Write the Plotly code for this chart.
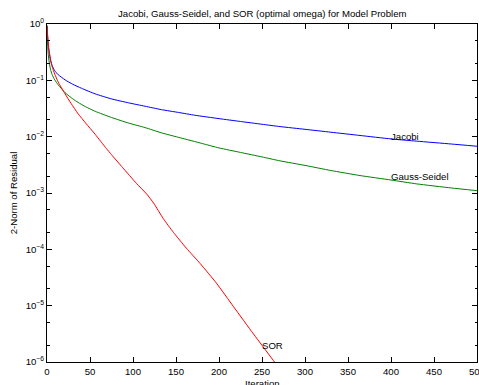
import plotly.graph_objects as go
import numpy as np

# Residual histories (2-norm) for the model problem
jacobi_iter = [0, 1, 2, 4, 6, 9, 13, 21, 30, 40, 56, 75, 95, 114, 133, 153, 172, 200, 225, 250,
               271, 300, 330, 364, 400, 430, 470, 500]
jacobi_res = [0.933, 0.501, 0.355, 0.229, 0.182, 0.148, 0.126, 0.102, 0.0851, 0.0724, 0.0575,
              0.0468, 0.0398, 0.0347, 0.0302, 0.0269, 0.0240, 0.0209, 0.0186, 0.0166, 0.0151,
              0.0135, 0.0120, 0.0105, 0.00912, 0.00832, 0.00741, 0.00676]

gs_iter = [0, 1, 2, 4, 6, 9, 13, 21, 30, 36, 45, 56, 75, 95, 114, 133, 155, 180, 200, 225, 250,
           271, 300, 330, 364, 400, 430, 470, 500]
gs_res = [0.933, 0.355, 0.240, 0.158, 0.126, 0.102, 0.0832, 0.0603, 0.0468, 0.0407, 0.0339,
          0.0282, 0.0219, 0.0174, 0.0145, 0.0117, 0.00955, 0.00759, 0.00631, 0.00525, 0.00437,
          0.00372, 0.00309, 0.00251, 0.00204, 0.00170, 0.00145, 0.00123, 0.00110]

sor_iter = [0, 1, 2, 4, 6, 9, 13, 21, 28, 36, 45, 56, 69, 75, 88, 104, 116, 124, 135, 147, 162,
            178, 197, 217, 240, 265, 275]
sor_res = [0.933, 0.562, 0.380, 0.240, 0.174, 0.129, 0.0933, 0.0575, 0.0389, 0.0257, 0.0174,
           0.0110, 0.00617, 0.00479, 0.00282, 0.00148, 0.000955, 0.000661, 0.000355, 0.000200,
           0.000105, 5.62e-5, 2.51e-5, 9.55e-6, 3.16e-6, 9.77e-7, 6.03e-7]

x_ticks = [0, 50, 100, 150, 200, 250, 300, 350, 400, 450, 500]
y_tickvals = [1, 1e-1, 1e-2, 1e-3, 1e-4, 1e-5, 1e-6]
y_ticktext = ["10<sup>0</sup>", "10<sup>−1</sup>", "10<sup>−2</sup>", "10<sup>−3</sup>",
              "10<sup>−4</sup>", "10<sup>−5</sup>", "10<sup>−6</sup>"]

# Curve labels: (x, y, text)
labels = [(400, 1e-2, "Jacobi"), (400, 2e-3, "Gauss-Seidel"), (250, 2e-6, "SOR")]

FONT = "Liberation Sans, Arial, Helvetica, sans-serif"

fig = go.Figure()
for xs, ys, col in [(jacobi_iter, jacobi_res, "#0000ff"),
                    (gs_iter, gs_res, "#008000"),
                    (sor_iter, sor_res, "#ff0000")]:
    fig.add_trace(go.Scatter(x=xs, y=ys, mode="lines",
                             line=dict(color=col, width=1, shape="spline", smoothing=0.5),
                             showlegend=False, cliponaxis=True))

for lx, ly, txt in labels:
    fig.add_annotation(x=lx, y=np.log10(ly), text=txt, showarrow=False,
                       xanchor="left", yanchor="middle", xshift=-2,
                       font=dict(family=FONT, size=9.6, color="black"))

# x-axis title, placed below the tick labels
fig.add_annotation(x=0.5, y=0, xref="paper", yref="paper", text="Iteration",
                   showarrow=False, xanchor="center", yanchor="top", yshift=-14,
                   font=dict(family=FONT, size=9.6, color="black"))

fig.update_layout(
    width=479, height=385,
    margin=dict(l=47, r=2, t=24, b=23),
    paper_bgcolor="white", plot_bgcolor="white",
    font=dict(family=FONT, size=9.6, color="black"),
    title=dict(text="Jacobi, Gauss-Seidel, and SOR (optimal omega) for Model Problem",
               x=0.5475, xanchor="center", y=0.965, yanchor="middle",
               font=dict(family=FONT, size=9.6)),
)
fig.update_xaxes(
    range=[0, 500], tickvals=x_ticks, ticks="inside", ticklen=5, tickcolor="black",
    showline=True, linecolor="black", linewidth=1, mirror="allticks",
    showgrid=False, zeroline=False, automargin=False, ticklabeloverflow="allow",
)
fig.update_yaxes(
    type="log", range=[-6, 0], tickvals=y_tickvals, ticktext=y_ticktext,
    ticks="inside", ticklen=5, tickcolor="black",
    showline=True, linecolor="black", linewidth=1, mirror="allticks",
    showgrid=False, zeroline=False, automargin=False,
    minor=dict(ticks="inside", ticklen=2.5, tickcolor="black", showgrid=False),
    title=dict(text="2-Norm of Residual", standoff=6, font=dict(size=9.6)),
)

fig.write_html("out.html")
